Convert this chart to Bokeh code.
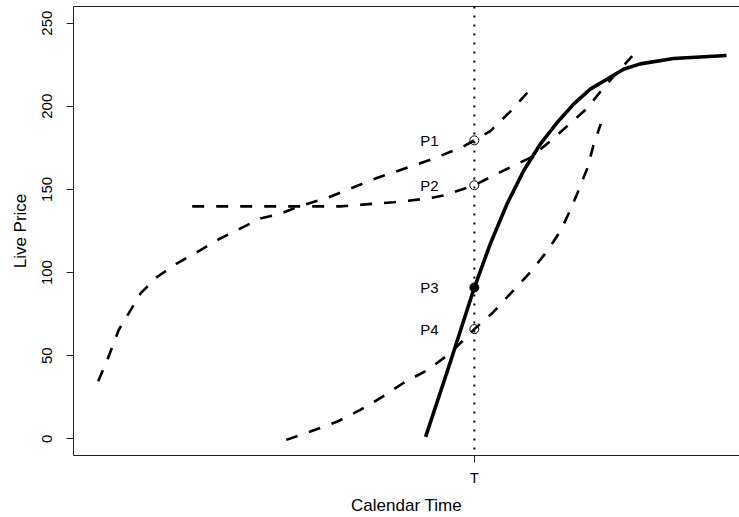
from bokeh.plotting import figure
from bokeh.models import Range1d, FixedTicker, LinearAxis, Span, ColumnDataSource
from bokeh.core.properties import value
from bokeh.embed import file_html
from bokeh.resources import INLINE

# ---- data ----
T = 61
tick_labels = {61: "T"}
y_ticks = [0, 50, 100, 150, 200, 250]

curve_a_x = [0.0, 1.5, 3.35, 4.97, 6.9, 9.6, 12.8, 16.6, 19.8, 23.6, 26.3, 29.6, 31.7, 34.9, 37.2, 45.3, 53.4, 58.8, 61.0, 63.6, 66.9, 70.4]
curve_a_y = [34.6, 47.6, 65.6, 75.6, 87.6, 97.5, 105.6, 113.5, 120.5, 127.5, 132.5, 135.5, 138.5, 142.5, 145.0, 157.0, 167.2, 175.0, 179.5, 185.1, 197.1, 211.5]

curve_b_x = [15.25, 31.7, 39.3, 43.4, 47.9, 53.4, 56.0, 61.0, 65.7, 70.1, 73.4, 76.1, 79.35, 81.9, 86.6]
curve_b_y = [139.8, 139.8, 139.8, 141.0, 142.3, 144.5, 146.3, 152.5, 161.3, 169.1, 179.3, 188.2, 199.0, 211.0, 230.2]

curve_d_x = [30.5, 34.4, 38.8, 42.5, 45.8, 49.5, 53.4, 57.1, 61.0, 64.1, 67.35, 70.1, 72.9, 75.0, 76.3, 77.7, 79.35, 80.3, 81.5]
curve_d_y = [-0.6, 4.4, 10.4, 17.4, 24.6, 33.6, 41.4, 51.5, 66.0, 76.3, 89.3, 100.3, 113.3, 125.3, 135.5, 147.5, 163.0, 176.3, 189.4]

curve_c_x = [53.1, 57.1, 61.0, 63.6, 66.3, 69.0, 71.7, 74.4, 77.1, 79.8, 82.5, 85.2, 87.9, 93.3, 101.9]
curve_c_y = [1.2, 46.1, 91.0, 117.4, 141.2, 161.2, 177.3, 190.1, 201.3, 210.3, 216.3, 222.3, 225.5, 228.7, 230.5]

point_names = ["P1", "P2", "P3", "P4"]
point_y = [179.5, 152.5, 91.0, 66.0]
point_filled = [False, False, True, False]
label_x = 55.2

FONT = "Liberation Sans"

p = figure(width=739, height=517, output_backend="svg", toolbar_location=None,
           x_range=Range1d(-4, 104), y_range=Range1d(-10, 260),
           min_border_left=73, min_border_right=0, min_border_top=6, min_border_bottom=61,
           x_axis_label="Calendar Time", y_axis_label="Live Price")
p.outline_line_color = None
p.grid.visible = False
p.background_fill_color = "white"
p.border_fill_color = "white"

# axes
xa = p.xaxis[0]
xa.ticker = FixedTicker(ticks=[T])
xa.major_label_overrides = tick_labels
ya = p.yaxis[0]
ya.ticker = FixedTicker(ticks=y_ticks)
ya.major_label_orientation = "vertical"
for ax in (xa, ya):
    ax.minor_tick_line_color = None
    ax.major_tick_out = 7
    ax.major_tick_in = 0
    ax.axis_line_color = "#222222"
    ax.major_tick_line_color = "#222222"
    ax.major_label_text_font = FONT
    ax.major_label_text_font_size = "15px"
    ax.major_label_text_color = "black"
    ax.axis_label_text_font = FONT
    ax.axis_label_text_font_size = "17px"
    ax.axis_label_text_font_style = "normal"
    ax.axis_label_text_color = "black"
xa.major_label_standoff = 6
xa.axis_label_standoff = 7
ya.major_label_standoff = 14
ya.axis_label_standoff = 10

top = LinearAxis(ticker=FixedTicker(ticks=[]), major_tick_out=0, major_tick_in=0,
                 minor_tick_out=0, minor_tick_in=0, major_label_standoff=0,
                 major_label_text_font_size="0px", axis_line_color="#222222")
p.add_layout(top, "above")

# dotted vertical line at T
p.add_layout(Span(location=T, dimension="height", line_color="black",
                  line_dash="2 7", line_width=2))

dash = "12 12"
p.line(curve_a_x, curve_a_y, line_color="black", line_width=2.6, line_dash=dash)
p.line(curve_b_x, curve_b_y, line_color="black", line_width=2.6, line_dash=dash)
p.line(curve_d_x, curve_d_y, line_color="black", line_width=2.6, line_dash=dash)
p.line(curve_c_x, curve_c_y, line_color="black", line_width=3.6, line_join="round")

open_y = [y for y, f in zip(point_y, point_filled) if not f]
fill_y = [y for y, f in zip(point_y, point_filled) if f]
p.scatter([T] * len(open_y), open_y, size=9, marker="circle", fill_color=None,
          line_color="black", line_width=1)
p.scatter([T] * len(fill_y), fill_y, size=9, marker="circle", fill_color="black",
          line_color="black", line_width=1)

src = ColumnDataSource(dict(x=[label_x] * len(point_names), y=point_y, t=point_names))
p.text(x="x", y="y", text="t", source=src, text_align="right", text_baseline="middle",
       text_font=value(FONT), text_font_size="15px", text_color="black")

open("out.html", "w").write(file_html(p, INLINE))
